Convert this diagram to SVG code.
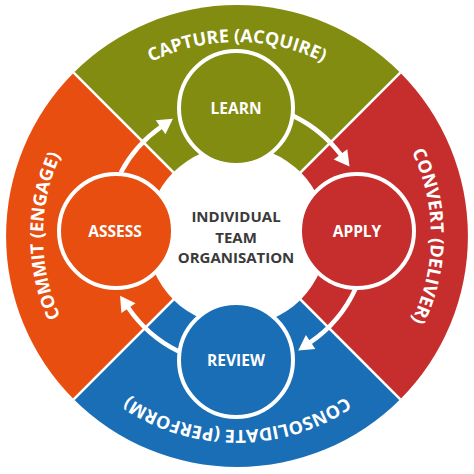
<svg xmlns="http://www.w3.org/2000/svg" width="474" height="474" viewBox="0 0 474 474">
<style>
.lbl{font-family:"Open Sans","Liberation Sans",sans-serif;font-weight:700;fill:#fff;text-anchor:middle}
.ring{font-size:18px}
.node{font-size:15.5px}
.ctr{font-family:"Open Sans","Liberation Sans",sans-serif;font-weight:700;font-size:15px;fill:#3a3a3a;text-anchor:middle}
.div{stroke:#fff;stroke-width:2.5}
.circ{stroke:#fff;stroke-width:4}
.arr{fill:none;stroke:#fff;stroke-width:4.5;marker-end:url(#head)}
</style>
<defs>
<path id="ringpath" d="M99.82 98.82 A194 194 0 1 1 374.18 373.18 A194 194 0 1 1 99.82 98.82"/>
<marker id="head" markerUnits="userSpaceOnUse" markerWidth="16" markerHeight="20" viewBox="-1 -10 16 20" refX="0" refY="0" orient="auto" overflow="visible">
<path d="M-1,-8.5 L14,0 L-1,8.5 Z" fill="#fff"/>
</marker>
</defs>
<rect width="474" height="474" fill="#fff"/>
<g id="quadrants">
<path id="q-capture" d="M237 236 L73.7 72.7 A231 231 0 0 1 400.3 72.7 Z" fill="#828c10"/>
<path id="q-convert" d="M237 236 L400.3 72.7 A231 231 0 0 1 400.3 399.3 Z" fill="#c62e2d"/>
<path id="q-consolidate" d="M237 236 L400.3 399.3 A231 231 0 0 1 73.7 399.3 Z" fill="#1a6eb5"/>
<path id="q-commit" d="M237 236 L73.7 399.3 A231 231 0 0 1 73.7 72.7 Z" fill="#e84e0f"/>
<line class="div" x1="237" y1="236" x2="73.7" y2="72.7"/>
<line class="div" x1="237" y1="236" x2="400.3" y2="72.7"/>
<line class="div" x1="237" y1="236" x2="400.3" y2="399.3"/>
<line class="div" x1="237" y1="236" x2="73.7" y2="399.3"/>
</g>
<g id="ring-labels" class="lbl ring">
<text><textPath href="#ringpath" startOffset="12.5%">CAPTURE (ACQUIRE)</textPath></text>
<text><textPath href="#ringpath" startOffset="37.5%">CONVERT (DELIVER)</textPath></text>
<text><textPath href="#ringpath" startOffset="62.5%">CONSOLIDATE (PERFORM)</textPath></text>
<text><textPath href="#ringpath" startOffset="87.5%">COMMIT (ENGAGE)</textPath></text>
</g>
<g id="center">
<circle cx="237" cy="236" r="90" fill="#fff"/>
<text class="ctr" x="236" y="222">INDIVIDUAL</text>
<text class="ctr" x="236" y="242.5">TEAM</text>
<text class="ctr" x="236" y="263">ORGANISATION</text>
</g>
<g id="learn">
<circle class="circ" cx="236" cy="108" r="57" fill="#828c10"/>
<text class="lbl node" x="236" y="114">LEARN</text>
</g>
<g id="apply">
<circle class="circ" cx="357" cy="231" r="57" fill="#c62e2d"/>
<text class="lbl node" x="357" y="237">APPLY</text>
</g>
<g id="review">
<circle class="circ" cx="236" cy="360" r="57" fill="#1a6eb5"/>
<text class="lbl node" x="236" y="366">REVIEW</text>
</g>
<g id="assess">
<circle class="circ" cx="116" cy="231" r="57" fill="#e84e0f"/>
<text class="lbl node" x="115" y="237">ASSESS</text>
</g>
<g id="connectors">
<path class="arr" d="M120.8 172.5 A131 131 0 0 1 161.4 126.7"/>
<path class="arr" d="M293.1 115.9 A131 131 0 0 1 341.1 155.2"/>
<path class="arr" d="M355.5 288.7 A131 131 0 0 1 309.8 342.6"/>
<path class="arr" d="M178.3 351.3 A131 131 0 0 1 127.9 307.3"/>
</g>
</svg>
